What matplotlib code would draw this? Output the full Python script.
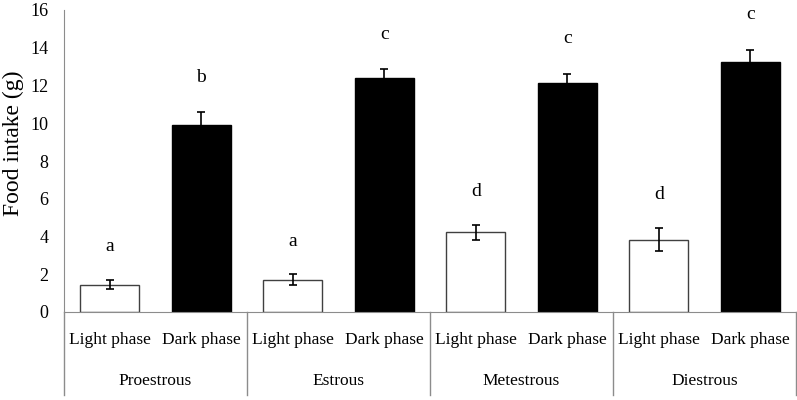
import matplotlib.pyplot as plt
from matplotlib.lines import Line2D
import matplotlib.transforms as mtransforms

plt.rcParams["font.family"] = ["Liberation Serif", "DejaVu Serif"]

# data
groups = ["Proestrous", "Estrous", "Metestrous", "Diestrous"]
phases = ["Light phase", "Dark phase"]

light_means = [1.45, 1.72, 4.22, 3.83]
light_errors = [0.25, 0.27, 0.40, 0.62]
dark_means = [9.92, 12.40, 12.13, 13.23]
dark_errors = [0.67, 0.47, 0.50, 0.67]

light_letters = ["a", "a", "d", "d"]
dark_letters = ["b", "c", "c", "c"]

yticks = [0, 2, 4, 6, 8, 10, 12, 14, 16]

# layout
fig = plt.figure(figsize=(7.97, 4.0), dpi=100)
ax = fig.add_axes([64 / 797, 88 / 400, 732 / 797, 302 / 400])

light_x = [2 * i for i in range(len(groups))]
dark_x = [2 * i + 1 for i in range(len(groups))]

ax.bar(
    light_x,
    light_means,
    width=0.64,
    color="white",
    edgecolor="#404040",
    linewidth=1.0,
    zorder=2
)

ax.bar(
    dark_x,
    dark_means,
    width=0.64,
    color="black",
    edgecolor="black",
    linewidth=1.0,
    zorder=2
)

ax.errorbar(
    light_x,
    light_means,
    yerr=light_errors,
    fmt="none",
    ecolor="black",
    elinewidth=1.2,
    capsize=3,
    capthick=1.2,
    zorder=3
)

ax.errorbar(
    dark_x,
    dark_means,
    yerr=dark_errors,
    fmt="none",
    ecolor="black",
    elinewidth=1.2,
    capsize=3,
    capthick=1.2,
    zorder=3
)

# significance letters
for x, m, e, t in zip(light_x, light_means, light_errors, light_letters):
    ax.text(x, m + e + 1.75, t, ha="center", va="center", fontsize=14)

for x, m, e, t in zip(dark_x, dark_means, dark_errors, dark_letters):
    ax.text(x, m + e + 1.85, t, ha="center", va="center", fontsize=14)

ax.set_xlim(-0.5, 7.5)
ax.set_ylim(0, 16)
ax.set_yticks(yticks)
ax.set_yticklabels([str(v) for v in yticks], fontsize=13)
ax.tick_params(axis="y", length=0, pad=11)
ax.set_xticks([])

for side in ["top", "right"]:
    ax.spines[side].set_visible(False)

ax.spines["left"].set_color("#8c8c8c")
ax.spines["bottom"].set_color("#8c8c8c")

# two-level category axis
trans = mtransforms.blended_transform_factory(ax.transData, ax.transAxes)

for i in range(len(groups) + 1):
    x = 2 * i - 0.5
    ax.add_line(
        Line2D(
            [x, x],
            [0, -0.275],
            transform=trans,
            color="#8c8c8c",
            linewidth=1.0,
            clip_on=False
        )
    )

for i, g in enumerate(groups):
    for j, p in enumerate(phases):
        ax.text(
            2 * i + j,
            -0.092,
            p,
            transform=trans,
            ha="center",
            va="center",
            fontsize=12.5
        )
    ax.text(
        2 * i + 0.5,
        -0.228,
        g,
        transform=trans,
        ha="center",
        va="center",
        fontsize=12.5
    )

fig.text(
    13 / 797,
    1 - 143 / 400,
    "Food intake (g)",
    rotation=90,
    ha="center",
    va="center",
    fontsize=17
)

fig.savefig("out.png", dpi=100)
plt.close(fig)
